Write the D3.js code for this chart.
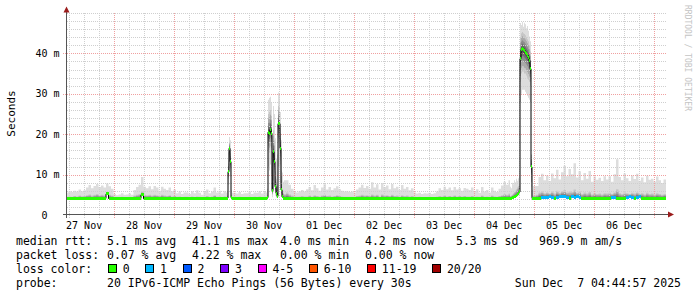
<!DOCTYPE html>
<html>
<head>
<meta charset="utf-8">
<script src="https://cdn.jsdelivr.net/npm/d3@7"></script>
<style>
  body { margin: 0; background: #fff; }
  svg { display: block; font-family: "DejaVu Sans Mono", monospace; }
</style>
</head>
<body>
<div id="chart"></div>
<script>
// SmokePing style graph: 10 days of IPv6 ping rtt (values in ms)

var graphStart = "2025-11-27T04:44:57Z";
var graphEnd = "2025-12-07T04:44:57Z";

// hourly samples from graphStart, one line per day
// null = covered by the detailed bursts below
var hourlyMedian = [
  4.1,4.1,4.0,4.1,4.1,4.1,4.2,4.1,4.1,4.1,4.0,4.1,4.1,4.1,4.1,4.1,5.2,4.1,4.1,4.0,4.0,4.0,4.0,4.0,
  4.0,4.0,4.1,4.1,4.1,4.1,5.0,4.1,4.1,4.1,4.1,4.1,4.1,4.1,4.1,4.1,4.1,4.1,4.1,4.1,4.0,4.0,4.0,4.0,
  4.0,4.0,4.0,4.0,4.0,4.0,4.0,4.0,4.0,4.1,4.1,4.1,4.0,4.0,4.0,4.0,null,null,null,4.0,4.0,4.0,4.0,4.0,
  4.0,4.0,4.0,4.0,4.0,4.0,4.0,4.0,null,null,null,null,null,null,null,null,4.1,4.1,4.0,4.0,4.0,4.0,4.0,4.0,
  4.1,4.1,4.1,4.0,4.1,4.1,4.1,4.1,4.1,4.0,4.1,4.1,4.1,4.1,4.1,4.1,4.1,4.1,4.1,4.1,4.1,4.1,4.1,4.1,
  4.1,4.1,4.1,4.1,4.1,4.0,4.1,4.1,4.1,4.1,4.1,4.1,4.0,4.0,4.0,4.0,4.0,4.0,4.0,4.0,4.0,4.0,4.0,4.0,
  4.0,4.0,4.0,4.0,4.0,4.0,4.1,4.1,4.1,4.1,4.1,4.1,4.1,4.1,4.1,4.1,4.1,4.1,4.1,4.1,4.1,4.1,4.1,4.1,
  4.1,4.1,4.1,4.1,4.1,4.1,4.1,4.1,4.1,4.1,null,null,null,null,null,null,null,null,null,null,4.1,4.2,4.4,4.4,
  4.4,4.5,4.4,4.1,4.4,4.5,4.6,4.5,4.4,4.1,4.5,4.4,4.5,4.3,4.1,4.1,4.1,4.1,4.1,4.1,4.1,4.1,4.1,4.1,
  4.1,4.1,4.4,4.4,4.1,4.1,4.1,4.1,4.4,4.5,4.4,4.1,4.4,4.5,4.1,4.1,4.1,4.1,4.1,4.1,4.1,4.1,4.1,4.2
];
// upper quartile ping
var hourlyUpper = [
  4.5,4.6,4.5,4.7,4.6,4.8,4.6,4.7,4.9,5.1,4.8,5.0,5.2,4.9,5.0,4.8,5.6,5.0,4.8,4.4,4.3,4.4,4.5,4.4,
  4.4,4.5,4.4,4.8,5.0,5.2,5.8,5.0,4.9,5.0,4.8,5.0,4.9,4.7,5.0,4.8,4.7,4.9,4.6,4.7,4.5,4.6,4.4,4.5,
  4.5,4.4,4.6,4.4,4.6,4.5,4.3,4.5,4.7,4.4,4.6,4.9,4.5,4.6,4.4,4.6,null,null,null,4.5,4.4,4.5,4.4,4.4,
  4.4,4.5,4.4,4.5,4.4,4.6,4.4,4.5,null,null,null,null,null,null,null,null,5.6,5.1,4.8,4.6,4.5,4.6,4.7,4.6,
  4.6,4.8,4.6,4.9,4.7,4.6,4.8,5.0,4.7,4.8,4.6,4.7,4.9,4.7,4.6,4.5,4.5,4.5,4.5,4.5,4.7,4.8,5.0,4.8,
  4.9,4.7,5.1,4.8,5.0,4.6,5.1,4.8,4.9,4.7,5.0,4.7,4.8,4.6,4.9,4.7,4.8,4.6,4.7,4.5,4.4,4.5,4.4,4.4,
  4.4,4.5,4.4,4.4,4.5,4.7,4.6,4.8,4.6,4.7,4.6,4.8,4.6,4.7,4.6,4.7,4.6,4.6,4.7,4.5,4.6,4.5,4.8,4.5,
  4.6,4.5,4.8,4.6,4.5,4.7,4.9,5.2,5.0,5.3,null,null,null,null,null,null,null,null,null,null,5.0,5.6,5.8,5.4,
  5.6,5.4,5.8,5.3,6.0,5.5,5.9,6.2,5.6,5.8,5.7,6.3,5.5,5.8,5.2,5.6,5.3,5.7,5.1,5.4,5.2,5.3,5.1,5.4,
  5.3,5.5,5.2,5.6,6.4,5.4,5.2,5.6,5.4,5.2,5.5,5.3,5.6,5.2,5.4,5.1,5.5,5.2,5.3,5.1,5.4,5.2,5.0,5.2
];
// slowest ping
var hourlySlowest = [
  5.6,5.9,5.7,6.0,5.8,6.3,5.9,6.1,6.8,7.4,6.6,7.2,7.7,6.9,7.3,6.8,7.8,7.1,6.5,5.2,4.9,5.1,5.4,5.0,
  5.1,5.3,5.0,6.2,6.9,7.5,9.4,7.0,6.6,7.1,6.4,7.2,6.8,6.0,7.0,6.5,6.2,6.8,5.9,6.3,5.4,5.8,5.2,5.6,
  5.6,5.2,5.9,5.4,6.1,5.5,5.0,5.7,6.3,5.4,5.8,6.8,5.6,6.0,5.3,5.9,null,null,null,5.5,5.3,5.7,5.2,5.4,
  5.4,5.8,5.2,5.6,5.5,5.9,5.3,5.7,null,null,null,null,null,null,null,null,8.6,7.5,6.5,5.9,5.6,5.9,6.2,5.8,
  6.4,6.9,6.1,7.4,6.6,6.0,6.8,7.6,6.3,6.9,6.2,6.6,7.1,6.4,6.0,5.8,5.9,5.7,5.8,5.6,6.3,6.8,7.5,6.7,
  7.2,6.5,8.1,6.8,7.6,6.3,7.9,6.9,7.3,6.4,7.7,6.6,7.0,6.2,7.4,6.5,6.9,6.1,6.6,5.6,5.3,5.5,5.2,5.4,
  5.3,5.5,5.2,5.4,5.8,6.6,6.2,7.0,6.4,6.8,6.1,6.9,6.3,6.6,6.0,6.7,6.5,6.2,6.8,5.7,6.4,5.5,6.9,5.8,
  6.2,5.6,6.8,6.0,5.7,6.5,7.3,8.2,7.5,8.6,null,null,null,null,null,null,null,null,null,null,7.2,9.4,10.2,8.6,
  9.8,8.4,10.3,9.1,11.2,8.8,10.6,12.2,9.6,11.4,10.1,12.8,9.3,10.8,8.6,10.4,9.0,10.9,8.2,9.5,8.7,9.2,8.4,9.6,
  8.8,9.6,8.2,10.1,13.8,9.4,8.6,10.3,9.1,8.4,9.8,8.9,10.2,8.5,9.3,8.1,9.7,8.7,9.0,8.3,9.5,8.6,7.9,8.8
];
// lost pings out of 20
var hourlyLoss = [
  0,0,0,0,0,0,0,0,0,0,0,0,0,0,0,0,0,0,0,0,0,0,0,0,
  0,0,0,0,0,0,0,0,0,0,0,0,0,0,0,0,0,0,0,0,0,0,0,0,
  0,0,0,0,0,0,0,0,0,0,0,0,0,0,0,0,0,0,0,0,0,0,0,0,
  0,0,0,0,0,0,0,0,0,0,0,0,0,0,0,0,0,0,0,0,0,0,0,0,
  0,0,0,0,0,0,0,0,0,0,0,0,0,0,0,0,0,0,0,0,0,0,0,0,
  0,0,0,0,0,0,0,0,0,0,0,0,0,0,0,0,0,0,0,0,0,0,0,0,
  0,0,0,0,0,0,0,0,0,0,0,0,0,0,0,0,0,0,0,0,0,0,0,0,
  0,0,0,0,0,0,0,0,0,0,0,0,0,0,0,0,0,0,0,0,0,0,1,1,
  1,1,1,0,1,1,1,1,1,0,1,1,1,1,0,0,0,0,0,0,0,0,0,0,
  0,0,1,1,0,0,0,0,1,1,1,0,1,1,0,0,0,0,0,0,0,0,0,0
];

// latency bursts at full resolution (one sample per 24 minutes)
var burstStepMinutes = 24;
var burstStart = ["2025-11-29T20:44:57Z", "2025-11-30T12:44:57Z", "2025-12-04T14:20:57Z"];
var burstMedian = [
  [4.1,4.2,10.7,16.5,13.2,4.3,4.1],
  [4.1,4.3,20.5,20.2,21.2,20.2,6.0,15.6,13.2,7.0,5.4,4.6,22.6,22.6,16.5,6.2,4.5,4.2,4.1],
  [4.2,4.2,4.3,4.4,4.5,4.6,4.8,5.0,5.4,5.7,38.7,40.9,41.1,40.9,40.7,40.3,40.0,39.6,39.0,38.2,36.2,11.9,4.1,4.1]
];
var burstFastest = [
  [4.0,4.0,7.5,12.0,9.5,4.1,4.0],
  [4.0,4.1,12.0,11.0,12.5,10.0,4.4,8.5,7.5,4.8,4.3,4.2,12.0,11.5,8.0,4.5,4.2,4.0,4.0],
  [4.0,4.0,4.1,4.2,4.3,4.4,4.5,4.6,4.8,5.0,28.0,30.0,31.0,31.0,31.0,30.5,30.0,29.5,29.0,28.5,28.0,4.6,4.0,4.0]
];
var burstLower = [
  [4.0,4.1,9.0,14.5,11.5,4.2,4.0],
  [4.0,4.2,16.0,15.5,17.0,15.5,5.0,12.0,10.5,5.8,4.8,4.4,18.0,17.5,12.5,5.2,4.3,4.1,4.0],
  [4.1,4.1,4.2,4.3,4.4,4.5,4.6,4.8,5.1,5.3,33.0,35.0,35.5,35.5,35.0,35.0,34.5,34.0,33.5,33.0,32.0,7.0,4.0,4.0]
];
var burstUpper = [
  [4.5,4.8,13.5,18.0,16.0,5.0,4.5],
  [4.5,5.0,25.0,25.5,26.0,24.5,13.0,21.0,18.5,12.0,9.0,8.0,27.0,26.5,21.5,11.0,6.5,5.5,5.2],
  [4.7,4.9,5.1,5.4,5.7,6.0,6.4,6.8,7.2,7.6,44.0,45.0,45.3,45.0,44.8,44.5,44.0,43.5,43.0,42.0,40.5,15.0,4.6,4.8]
];
var burstSlowest = [
  [5.6,6.0,15.5,19.3,18.5,6.2,5.5],
  [5.6,6.5,28.5,29.0,29.3,28.0,19.5,27.0,25.0,19.0,14.0,15.0,30.3,29.8,25.5,18.5,10.5,8.2,8.6],
  [7.0,6.6,8.0,7.6,8.6,8.1,9.0,8.5,9.1,9.6,47.5,47.0,47.8,46.6,47.6,47.2,46.2,46.8,45.6,44.2,43.0,12.5,6.2,7.2]
];

var yTickValues = [0, 10, 20, 30, 40];
var yTickLabels = ["0\u00a0\u00a0", "10 m", "20 m", "30 m", "40 m"];

var lossLabels = ["0", "1", "2", "3", "4-5", "6-10", "11-19", "20/20"];
var lossColors = ["#26ff00", "#00b8ff", "#0059ff", "#7e00ff", "#ff00ff", "#ff5500", "#ff0000", "#a10000"];
var lossUpper = [0, 1, 2, 3, 5, 10, 19, 20];

var rttStats = ["5.1 ms avg", "41.1 ms max", "4.0 ms min", "4.2 ms now", "5.3 ms sd", "969.9 m am/s"];
var lossStats = ["0.07 % avg", "4.22 % max", "0.00 % min", "0.00 % now"];
var probeText = "20 IPv6-ICMP Echo Pings (56 Bytes) every 30s";
var stampText = "Sun Dec  7 04:44:57 2025";


var W = 697, H = 297;
var svg = d3.select("#chart").append("svg").attr("width", W).attr("height", H);

var x = d3.scaleUtc()
    .domain([d3.isoParse(graphStart), d3.isoParse(graphEnd)])
    .range([66, 666]);
var y = d3.scaleLinear().domain([0, 50]).range([215, 13]);

// build sample list
var samples = [];
var t0 = d3.isoParse(graphStart).getTime();
hourlyMedian.forEach(function (m, i) {
  if (m === null) return;
  samples.push({t: new Date(t0 + i * 3600e3), median: m, fastest: m, lower: m,
    upper: hourlyUpper[i], slowest: hourlySlowest[i], loss: hourlyLoss[i]});
});
burstStart.forEach(function (s, b) {
  var bt = d3.isoParse(s).getTime();
  burstMedian[b].forEach(function (m, k) {
    samples.push({t: new Date(bt + k * burstStepMinutes * 60e3), median: m,
      fastest: burstFastest[b][k], lower: burstLower[b][k],
      upper: burstUpper[b][k], slowest: burstSlowest[b][k], loss: 0});
  });
});
samples.sort(function (a, b) { return a.t - b.t; });
samples.forEach(function (d, i) {
  d.t1 = i < samples.length - 1 ? samples[i + 1].t : x.domain()[1];
});
// closing point so the step curves reach the right edge
var stepData = samples.concat([Object.assign({}, samples[samples.length - 1], {t: x.domain()[1]})]);

// smoke
var smoke = svg.append("g");
var outer = d3.area().curve(d3.curveStepAfter)
    .x(function (d) { return x(d.t); })
    .y0(function (d) { return y(d.fastest); })
    .y1(function (d) { return y(d.slowest); });
smoke.append("path").datum(stepData).attr("d", outer).attr("fill", "#dddddd");

var shadeFrac = [1, 0.75, 0.5, 0.3, 0.15];
var shadeCol = ["#c6c6c6", "#a9a9a9", "#8c8c8c", "#6e6e6e", "#525252"];
shadeFrac.forEach(function (f, k) {
  var band = d3.area().curve(d3.curveStepAfter)
      .x(function (d) { return x(d.t); })
      .y0(function (d) { return y(d.median - (d.median - d.lower) * f); })
      .y1(function (d) { return y(d.median + (d.upper - d.median) * f); });
  smoke.append("path").datum(stepData).attr("d", band).attr("fill", shadeCol[k]);
});

// grid
var grid = svg.append("g").attr("shape-rendering", "crispEdges").attr("stroke-dasharray", "1,1");
var minorY = y.ticks(25).filter(function (v) { return v > 0 && yTickValues.indexOf(v) < 0; });
grid.selectAll(".ymin").data(minorY).enter().append("line")
    .attr("x1", 67).attr("x2", 667)
    .attr("y1", function (d) { return Math.round(y(d)) + 0.5; })
    .attr("y2", function (d) { return Math.round(y(d)) + 0.5; })
    .attr("stroke", "#cfcfcf");
var sixHours = d3.utcHour.every(6).range(x.domain()[0], x.domain()[1])
    .filter(function (d) { return d.getUTCHours() !== 0; });
var days = d3.utcDay.range(x.domain()[0], x.domain()[1]);
grid.selectAll(".xmin").data(sixHours).enter().append("line")
    .attr("x1", function (d) { return Math.round(x(d)) + 0.5; })
    .attr("x2", function (d) { return Math.round(x(d)) + 0.5; })
    .attr("y1", 13).attr("y2", 218)
    .attr("stroke", "#cfcfcf");
grid.selectAll(".xmaj").data(days).enter().append("line")
    .attr("x1", function (d) { return Math.round(x(d)) + 0.5; })
    .attr("x2", function (d) { return Math.round(x(d)) + 0.5; })
    .attr("y1", 13).attr("y2", 219)
    .attr("stroke", "#f0a0a0");
grid.selectAll(".ymaj").data(yTickValues.filter(function (v) { return v > 0; })).enter().append("line")
    .attr("x1", 63).attr("x2", 667)
    .attr("y1", function (d) { return Math.round(y(d)) + 0.5; })
    .attr("y2", function (d) { return Math.round(y(d)) + 0.5; })
    .attr("stroke", "#f0a0a0");

// median: thin dark line plus loss coloured band
var medLine = d3.line().curve(d3.curveStepAfter)
    .x(function (d) { return x(d.t); })
    .y(function (d) { return y(d.median); });
svg.append("path").datum(stepData).attr("d", medLine)
    .attr("fill", "none").attr("stroke", "#000").attr("stroke-width", 1);

function lossIndex(l) {
  for (var i = 0; i < lossUpper.length; i++) { if (l <= lossUpper[i]) return i; }
  return lossUpper.length - 1;
}
svg.append("g").attr("shape-rendering", "crispEdges")
  .selectAll("rect").data(samples).enter().append("rect")
    .attr("x", function (d) { return x(d.t); })
    .attr("width", function (d) { return x(d.t1) - x(d.t); })
    .attr("y", function (d) { return y(d.median) - 1.5; })
    .attr("height", 3)
    .attr("fill", function (d) { return lossColors[lossIndex(d.loss)]; });

// axes
var axis = svg.append("g").attr("shape-rendering", "crispEdges");
axis.append("line").attr("x1", 63).attr("x2", 669).attr("y1", 214.5).attr("y2", 214.5).attr("stroke", "#555");
axis.append("line").attr("x1", 66.5).attr("x2", 66.5).attr("y1", 218).attr("y2", 11).attr("stroke", "#555");
svg.append("path").attr("d", "M63.5,12.5L69.5,12.5L66.5,6.5Z").attr("fill", "#9b1c1c");
svg.append("path").attr("d", "M668,211.5L668,217.5L674,214.5Z").attr("fill", "#9b1c1c");

svg.append("g").selectAll("text").data(yTickValues).enter().append("text")
    .attr("x", 59.5)
    .attr("y", function (d) { return y(d) + 3.6; })
    .attr("text-anchor", "end")
    .attr("font-size", "10px")
    .attr("xml:space", "preserve")
    .text(function (d, i) { return yTickLabels[i]; });

var noons = days.map(function (d) { return d3.utcHour.offset(d, 12); })
    .concat([d3.utcHour.offset(d3.utcDay.floor(x.domain()[0]), 12)])
    .filter(function (d) { return d >= x.domain()[0] && d <= x.domain()[1]; });
svg.append("g").selectAll("text").data(noons).enter().append("text")
    .attr("x", function (d) { return x(d); })
    .attr("y", 228.6)
    .attr("text-anchor", "middle")
    .attr("font-size", "10px")
    .text(function (d) { return d3.utcFormat("%d %b")(d); });

svg.append("text")
    .attr("transform", "translate(15,113.5) rotate(-90)")
    .attr("text-anchor", "middle")
    .attr("font-size", "11px")
    .text("Seconds");

svg.append("text")
    .attr("transform", "translate(685,5) rotate(90)")
    .attr("font-size", "8px")
    .attr("fill", "#c4c4c4")
    .text("RRDTOOL / TOBI OETIKER");

// legend
var legend = svg.append("g").attr("font-size", "11.5px").attr("fill", "#000");
var cols = [107, 192, 280, 365, 456, 539];
var rows = [245, 259, 273, 287];
legend.append("text").attr("x", 16).attr("y", rows[0]).text("median rtt:");
legend.selectAll(".rtt").data(rttStats).enter().append("text")
    .attr("x", function (d, i) { return cols[i]; }).attr("y", rows[0]).text(function (d) { return d; });
legend.append("text").attr("x", 16).attr("y", rows[1]).text("packet loss:");
legend.selectAll(".pl").data(lossStats).enter().append("text")
    .attr("x", function (d, i) { return cols[i]; }).attr("y", rows[1]).text(function (d) { return d; });
legend.append("text").attr("x", 16).attr("y", rows[2]).text("loss color:");

var charW = 6.92, lx = 108;
lossLabels.forEach(function (lab, i) {
  legend.append("rect").attr("x", lx + 0.5).attr("y", 264.5).attr("width", 8).attr("height", 8)
      .attr("fill", lossColors[i]).attr("stroke", "#000").attr("stroke-width", 1)
      .attr("shape-rendering", "crispEdges");
  legend.append("text").attr("x", lx + 14.7).attr("y", rows[2]).text(lab);
  lx += 8 + 6.7 + lab.length * charW + 15.8;
});

legend.append("text").attr("x", 16).attr("y", rows[3]).text("probe:");
legend.append("text").attr("x", 107).attr("y", rows[3]).text(probeText);
legend.append("text").attr("x", 681).attr("y", rows[3]).attr("text-anchor", "end")
    .attr("xml:space", "preserve").style("white-space", "pre").text(stampText);
</script>
</body>
</html>
